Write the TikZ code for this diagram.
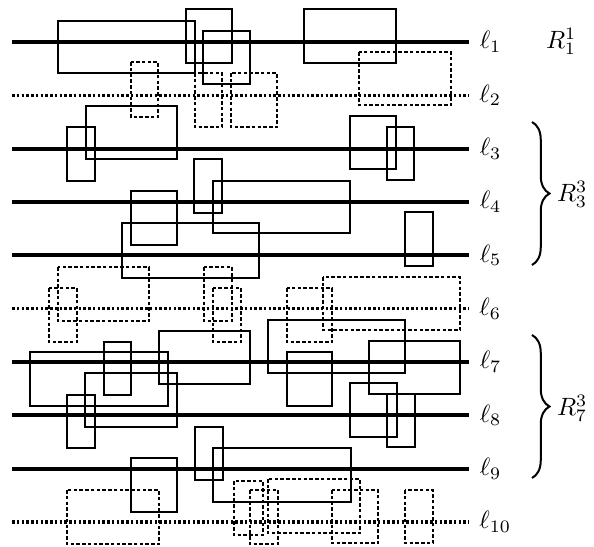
\documentclass[tikz,border=0pt]{standalone}
\usetikzlibrary{decorations.pathreplacing}

\begin{document}
\begin{tikzpicture}[x=0.4pt, y=-0.4pt,
  solidline/.style={line width=1.6pt},
  dotline/.style={line width=1.3pt, dash pattern=on 1pt off 0.9pt},
  box/.style={line width=0.5pt},
  dbox/.style={line width=0.5pt, dash pattern=on 1.4pt off 0.9pt},
  lab/.style={anchor=west, inner sep=1pt},
  lname/.style={anchor=west, inner sep=3.5pt},
  brc/.style={decorate, decoration={brace, amplitude=7pt}, line width=0.8pt}]
  \useasboundingbox (0,0) rectangle (594,547);
  % rectangles
  \foreach \xa/\ya/\xb/\yb in {58/21/195/73, 186/9/232/63, 203/31/250/84, 304/9/396/63,
      86/106/177/159, 67/127/95/181, 350/116/396/169, 387/127/414/180,
      194/159/222/213, 213/181/350/233, 131/191/177/245, 122/223/259/278, 405/212/433/266,
      268/320/405/373, 159/331/250/384, 369/341/460/394, 30/352/168/406, 104/342/131/395,
      287/352/332/406, 85/373/177/427, 67/395/95/448, 350/383/397/437, 387/394/415/447,
      195/427/223/480, 213/448/351/502, 131/458/177/512}
    \draw[box] (\xa,\ya) rectangle (\xb,\yb);
  \foreach \xa/\ya/\xb/\yb in {131/62/158/117, 195/73/222/127, 231/73/277/127, 359/52/451/105,
      58/267/149/321, 49/288/77/342, 204/267/232/321, 213/288/241/342, 287/288/332/342,
      323/277/460/330, 67/490/159/544, 234/481/263/535, 250/490/278/544, 268/479/360/533,
      332/490/378/543, 405/490/433/543}
    \draw[dbox] (\xa,\ya) rectangle (\xb,\yb);
  % lines
  \foreach \i in {1,3,4,5,7,8,9}
    \draw[solidline] (12,{42+(\i-1)*53.33}) -- (469,{42+(\i-1)*53.33}) node[lname] (l\i) {$\ell_{\i}$};
  \foreach \i in {2,6,10}
    \draw[dotline] (12,{42+(\i-1)*53.33}) -- (469,{42+(\i-1)*53.33}) node[lname] (l\i) {$\ell_{\i}$};
  % groups
  \node[lab] (r1) at (543,41) {$R_1^1$};
  \coordinate (b3a) at (532,122);
  \coordinate (b3b) at (532,265);
  \coordinate (b7a) at (532,335);
  \coordinate (b7b) at (532,478);
  \draw[brc] (b3a) -- (b3b);
  \draw[brc] (b7a) -- (b7b);
  \node[lab] (r3) at (554,194) {$R_3^3$};
  \node[lab] (r7) at (554,408) {$R_7^3$};
\end{tikzpicture}
\end{document}
